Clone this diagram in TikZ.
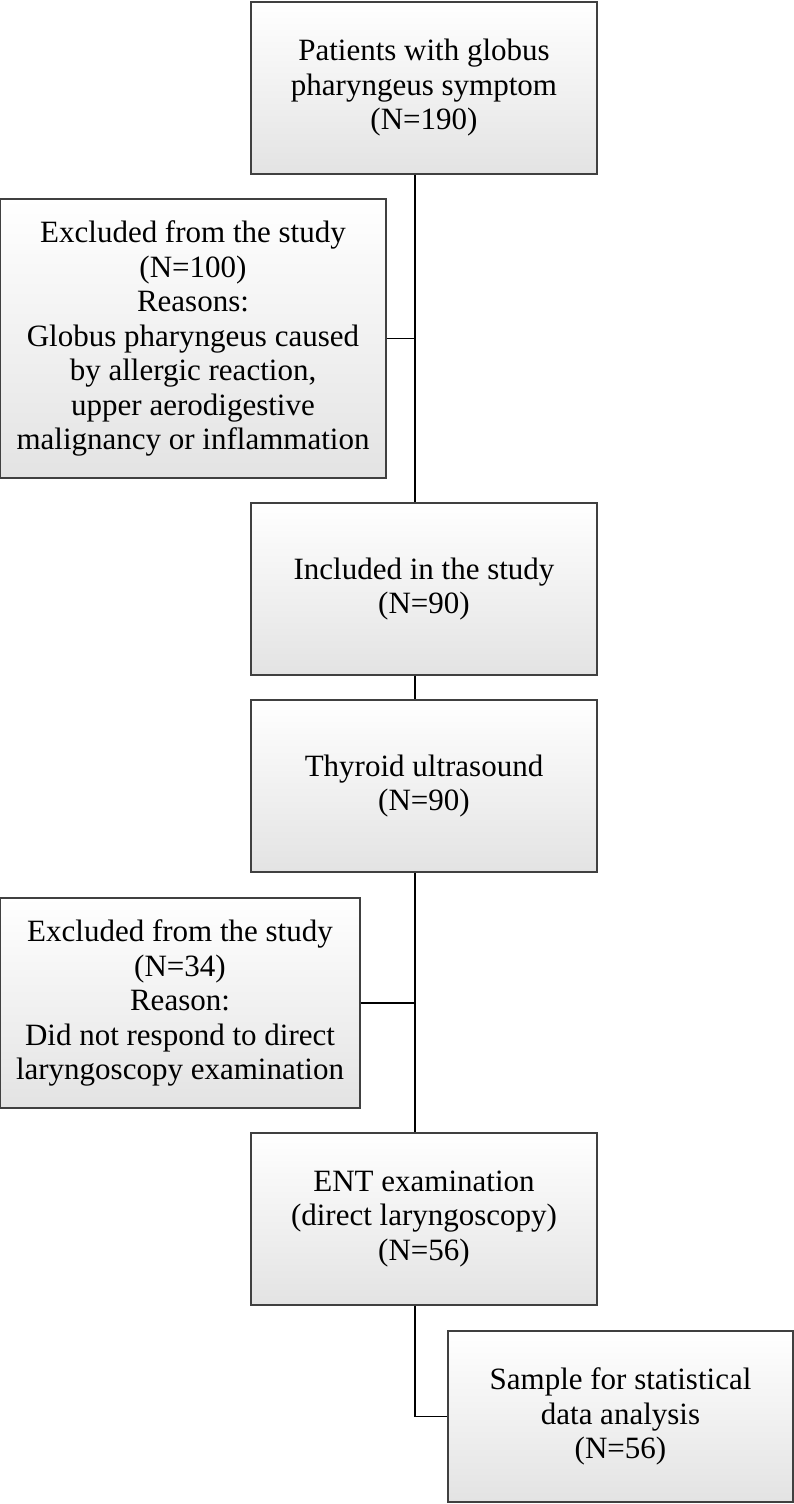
\documentclass[tikz,border=0pt]{standalone}
\usepackage{fontspec}
\setmainfont{Liberation Serif}
\begin{document}
\begin{tikzpicture}[x=1pt,y=1pt,
  box/.style={draw=black!75, line width=1.1pt, top color=white, bottom color=black!11,
    align=center, inner sep=0pt, font=\fontsize{31}{34.5}\selectfont},
  link/.style={draw=black, line width=1.3pt}]
\useasboundingbox (0,0) rectangle (794,-1504);
\node[box, minimum width=346, minimum height=172] (b1) at (424,-88)
  {Patients with globus\\pharyngeus symptom\\(N=190)};
\node[box, minimum width=386, minimum height=279] (e1) at (193,-338.5)
  {Excluded from the study\\(N=100)\\Reasons:\\Globus pharyngeus caused\\by allergic reaction,\\upper aerodigestive\\malignancy or inflammation};
\node[box, minimum width=346, minimum height=172] (inc) at (424,-589)
  {Included in the study\\(N=90)};
\node[box, minimum width=346, minimum height=172] (thy) at (424,-786)
  {Thyroid ultrasound\\(N=90)};
\node[box, minimum width=360, minimum height=210] (e2) at (180,-1003)
  {Excluded from the study\\(N=34)\\Reason:\\Did not respond to direct\\laryngoscopy examination};
\node[box, minimum width=346, minimum height=172] (ent) at (424,-1219)
  {ENT examination\\(direct laryngoscopy)\\(N=56)};
\node[box, minimum width=345, minimum height=171] (smp) at (620.5,-1416.5)
  {Sample for statistical\\data analysis\\(N=56)};
\coordinate (sp) at (415,0);
\draw[link] (b1.south -| sp) -- (inc.north -| sp);
\draw[link] (inc.south -| sp) -- (thy.north -| sp);
\draw[link] (thy.south -| sp) -- (ent.north -| sp);
\draw[link] (e1.east) -- (e1.east -| sp);
\draw[link] (e2.east) -- (e2.east -| sp);
\draw[link] (ent.south -| sp) |- (smp.west);
\end{tikzpicture}
\end{document}
